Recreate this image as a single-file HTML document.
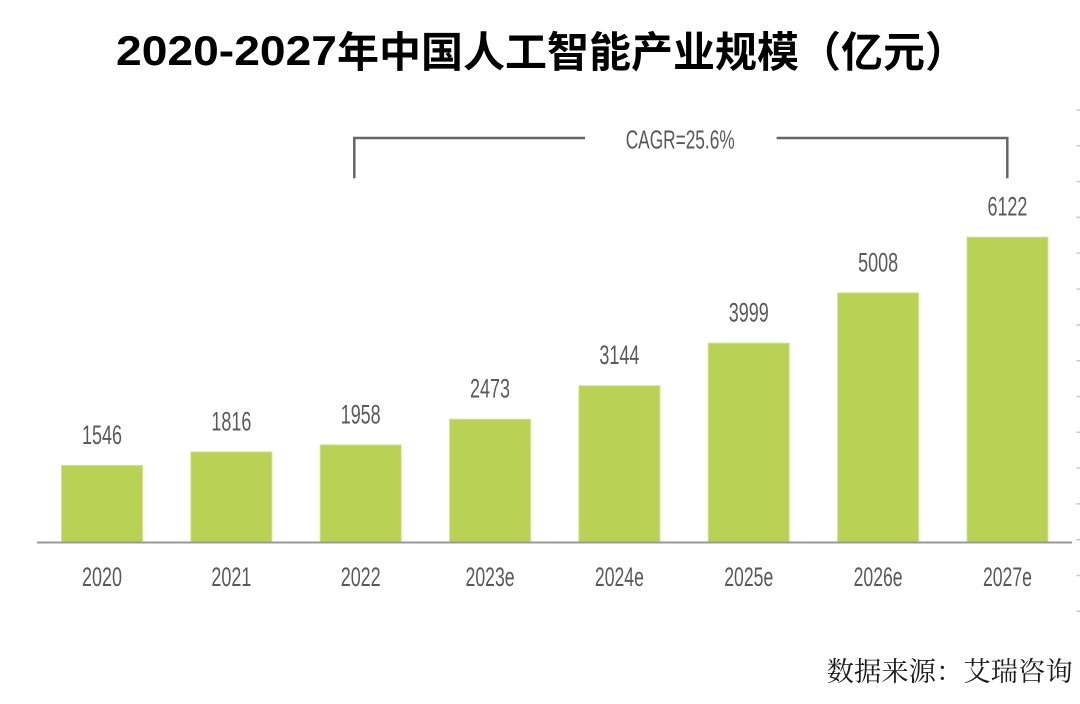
<!DOCTYPE html>
<html>
<head>
<meta charset="utf-8">
<style>
html,body{margin:0;padding:0;background:#fff;}
svg{display:block;}
</style>
</head>
<body>
<svg width="1080" height="704" viewBox="0 0 1080 704" xmlns="http://www.w3.org/2000/svg">
<rect width="1080" height="704" fill="#fff"/>
<!-- Title -->
<text x="116" y="65" font-family="Liberation Sans, sans-serif" font-weight="bold" font-size="42" fill="#000" textLength="221" lengthAdjust="spacingAndGlyphs">2020-2027</text>
<text x="337" y="67" font-family="Liberation Sans, 'Noto Sans CJK SC', sans-serif" font-weight="bold" font-size="42" fill="#000">年中国人工智能产业规模（亿元）</text>

<!-- CAGR bracket -->
<polyline points="354.3,178.3 354.3,138 585,138" fill="none" stroke="#666" stroke-width="2.5"/>
<polyline points="776.6,138 1007.3,138 1007.3,178.3" fill="none" stroke="#666" stroke-width="2.5"/>
<text x="625.7" y="148.3" font-family="Liberation Sans, sans-serif" font-size="26" fill="#595959" textLength="109" lengthAdjust="spacingAndGlyphs">CAGR=25.6%</text>

<!-- Bars -->
<g fill="#B9D155" stroke="#D3E38F" stroke-width="1">
<rect x="61.5" y="465.4" width="81" height="77.1"/>
<rect x="190.85" y="451.9" width="81" height="90.6"/>
<rect x="320.2" y="444.9" width="81" height="97.6"/>
<rect x="449.55" y="419.2" width="81" height="123.3"/>
<rect x="578.9" y="385.7" width="81" height="156.8"/>
<rect x="708.25" y="343.1" width="81" height="199.4"/>
<rect x="837.6" y="292.8" width="81" height="249.7"/>
<rect x="966.95" y="237.2" width="81" height="305.3"/>
</g>

<!-- Axis -->
<line x1="37" y1="542.5" x2="1072" y2="542.5" stroke="#999" stroke-width="2"/>

<!-- Value labels -->
<g font-family="Liberation Sans, sans-serif" font-size="27" fill="#595959">
<text x="82" y="444" textLength="40" lengthAdjust="spacingAndGlyphs">1546</text>
<text x="211.35" y="430.4" textLength="40" lengthAdjust="spacingAndGlyphs">1816</text>
<text x="340.7" y="423.4" textLength="40" lengthAdjust="spacingAndGlyphs">1958</text>
<text x="470.05" y="397.7" textLength="40" lengthAdjust="spacingAndGlyphs">2473</text>
<text x="599.4" y="364.2" textLength="40" lengthAdjust="spacingAndGlyphs">3144</text>
<text x="728.75" y="321.6" textLength="40" lengthAdjust="spacingAndGlyphs">3999</text>
<text x="858.1" y="271.3" textLength="40" lengthAdjust="spacingAndGlyphs">5008</text>
<text x="987.45" y="215.7" textLength="40" lengthAdjust="spacingAndGlyphs">6122</text>
</g>

<!-- X labels -->
<g font-family="Liberation Sans, sans-serif" font-size="27" fill="#595959">
<text x="82" y="586" textLength="40" lengthAdjust="spacingAndGlyphs">2020</text>
<text x="211.35" y="586" textLength="40" lengthAdjust="spacingAndGlyphs">2021</text>
<text x="340.7" y="586" textLength="40" lengthAdjust="spacingAndGlyphs">2022</text>
<text x="465.55" y="586" textLength="49" lengthAdjust="spacingAndGlyphs">2023e</text>
<text x="594.9" y="586" textLength="49" lengthAdjust="spacingAndGlyphs">2024e</text>
<text x="724.25" y="586" textLength="49" lengthAdjust="spacingAndGlyphs">2025e</text>
<text x="853.6" y="586" textLength="49" lengthAdjust="spacingAndGlyphs">2026e</text>
<text x="982.95" y="586" textLength="49" lengthAdjust="spacingAndGlyphs">2027e</text>
</g>

<!-- Right edge ticks -->
<g stroke="#c8c8c8" stroke-width="1.5">
<line x1="1076.5" y1="110" x2="1080" y2="110"/>
<line x1="1076.5" y1="145.8" x2="1080" y2="145.8"/>
<line x1="1076.5" y1="181.6" x2="1080" y2="181.6"/>
<line x1="1076.5" y1="217.4" x2="1080" y2="217.4"/>
<line x1="1076.5" y1="253.2" x2="1080" y2="253.2"/>
<line x1="1076.5" y1="289" x2="1080" y2="289"/>
<line x1="1076.5" y1="324.9" x2="1080" y2="324.9"/>
<line x1="1076.5" y1="360.7" x2="1080" y2="360.7"/>
<line x1="1076.5" y1="396.5" x2="1080" y2="396.5"/>
<line x1="1076.5" y1="432.3" x2="1080" y2="432.3"/>
<line x1="1076.5" y1="468.1" x2="1080" y2="468.1"/>
<line x1="1076.5" y1="503.9" x2="1080" y2="503.9"/>
<line x1="1076.5" y1="539.7" x2="1080" y2="539.7"/>
<line x1="1076.5" y1="575.5" x2="1080" y2="575.5"/>
<line x1="1076.5" y1="611.3" x2="1080" y2="611.3"/>
</g>

<!-- Source -->
<text x="826.7" y="681" font-family="Liberation Serif, 'Noto Serif CJK SC', serif" font-size="27" fill="#1a1a1a" textLength="246" lengthAdjust="spacingAndGlyphs">数据来源：艾瑞咨询</text>
</svg>
</body>
</html>
